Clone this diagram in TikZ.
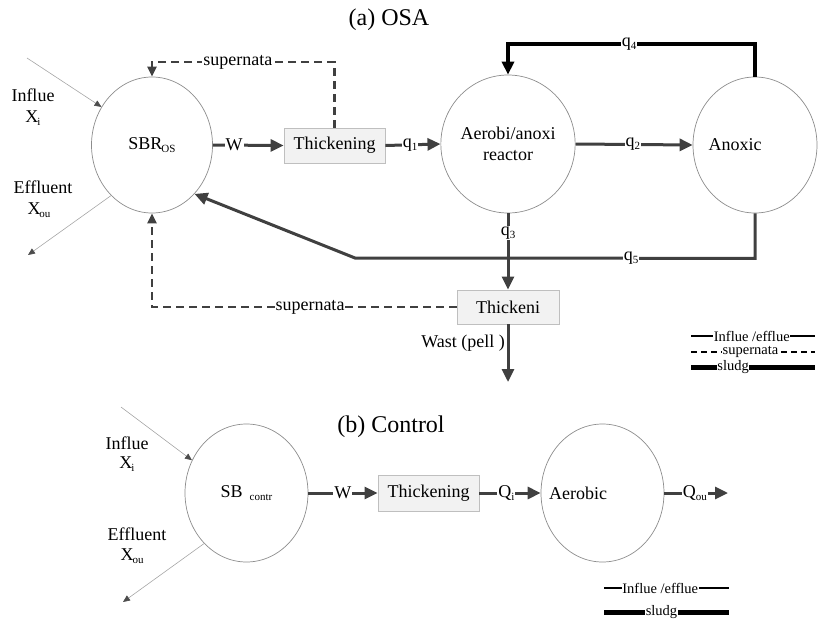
\documentclass[tikz,border=0pt]{standalone}
\usepackage{fontspec}
\setmainfont{Liberation Serif}
\usetikzlibrary{shapes.geometric,arrows.meta}
\newcommand\myfs{\fontsize{18}{21}\selectfont}
\newcommand\lgfs{\fontsize{14.5}{16}\selectfont}
\newcommand\sbt[1]{\raisebox{-3pt}{\fontsize{11}{13}\selectfont #1}}
\begin{document}
\begin{tikzpicture}[x=1pt,y=-1pt,
  vessel/.style={ellipse,draw=black!45,line width=0.7pt,inner sep=0pt,font=\myfs,align=center},
  tank/.style={rectangle,draw=black!25,fill=black!5,line width=0.9pt,minimum width=101pt,minimum height=35pt,inner sep=0pt,font=\myfs},
  txt/.style={font=\myfs,inner sep=1pt},
  lbl/.style={fill=white,inner sep=1pt,font=\myfs},
  lgd/.style={fill=white,inner xsep=0.5pt,inner ysep=0pt,font=\lgfs},
  flow/.style={draw=black!75,line width=3pt,-{Triangle[length=13pt,width=12pt]}},
  sludge/.style={draw=black,line width=3.4pt,-{Triangle[length=13pt,width=12pt]}},
  superflow/.style={draw=black!75,line width=2.2pt,dash pattern=on 8pt off 5pt,-{Triangle[length=10pt,width=9pt]}},
  thin/.style={draw=black!35,line width=0.6pt,-{Triangle[length=7pt,width=6pt,color=black!70]}}
]
\useasboundingbox (0,0) rectangle (822,621);

% ---------- (a) OSA ----------
\node[font=\fontsize{24}{28}\selectfont] (ta) at (389,20) {(a) OSA};

\node[vessel,minimum width=121pt,minimum height=136pt] (sbr) at (152,145) {SBR\hspace{-1pt}\sbt{OS}};
\node[vessel,minimum width=123pt,minimum height=138pt] (aer) at (508,144) {Aerobi/anoxi\\reactor};
\node[vessel,minimum width=124pt,minimum height=136pt] (anox) at (755,145) {};
\node[txt] (anoxt) at (735,145) {Anoxic};
\node[tank] (th1) at (334.5,145.5) {Thickening};
\node[tank,minimum width=102pt,minimum height=34pt] (th2) at (508,307) {Thickeni};

\node[txt] (inA) at (33,95) {Influe};
\node[txt] (xiA) at (33,118) {X\hspace{-1pt}\sbt{i}};
\node[txt] (efA) at (43,187) {Effluent};
\node[txt] (xoA) at (39,210) {X\hspace{-1pt}\sbt{ou}};

\coordinate (inAs) at (27,58);
\coordinate (efAe) at (28,255);
\draw[thin] (inAs) -- (sbr.143);
\draw[thin] (sbr.231) -- (efAe);

\draw[flow] (sbr.east) -- node[lbl,pos=0.3]{W} (th1.west);
\draw[flow] (th1.east) -- node[lbl,pos=0.45]{q\sbt{1}} (aer.west);
\draw[flow] (aer.east) -- node[lbl,pos=0.49]{q\sbt{2}} (anox.west);

\draw[sludge] (anox.north) -- (755,44) -- node[lbl,pos=0.51]{q\sbt{4}} (508,44) -- (aer.north);

\draw[flow] (anox.south) -- ++(0,45) -- node[lbl,pos=0.31]{q\sbt{5}} (355,258) -- (sbr.311);
\draw[flow] (aer.south) -- node[lbl,pos=0.26]{q\sbt{3}} (th2.north);

\draw[superflow] (th1.north) -- (334.5,62) -- node[lbl,pos=0.53]{supernata} (152,62) -- (sbr.north);
\draw[superflow] (th2.west) -- (152,307) -- (sbr.south);
\node[lbl] (supB) at (310,307) {supernata};

\coordinate (wend) at (508,382);
\draw[flow] (th2.south) -- (wend);
\node[txt,anchor=east] (wast) at (506,343) {Wast (pell )};

% legend (a)
\draw[line width=1.6pt] (691,336) -- node[lgd,pos=0.49]{Influe /efflue} (815,336);
\draw[line width=1.6pt,dash pattern=on 6pt off 4pt] (691,352) -- node[lgd,pos=0.48]{supernata} (815,352);
\draw[line width=5pt] (691,367) -- node[lgd,pos=0.34]{sludg} (815,367);

% ---------- (b) Control ----------
\node[font=\fontsize{24}{28}\selectfont] (tb) at (391,427) {(b) Control};

\node[vessel,minimum width=123pt,minimum height=138pt] (sbrc) at (246.5,493) {SB\hspace{7pt}\sbt{contr}};
\node[vessel,minimum width=123pt,minimum height=138pt] (aerc) at (602.5,493) {};
\node[txt] (aerct) at (578,493) {Aerobic};
\node[tank,minimum height=36pt] (th3) at (428.5,493) {Thickening};

\node[txt] (inB) at (127,443) {Influe};
\node[txt] (xiB) at (127,464) {X\hspace{-1pt}\sbt{i}};
\node[txt] (efB) at (137,534) {Effluent};
\node[txt] (xoB) at (132,556) {X\hspace{-1pt}\sbt{ou}};

\coordinate (inBs) at (121,407);
\coordinate (efBe) at (123,602);
\draw[thin] (inBs) -- (sbrc.149);
\draw[thin] (sbrc.230) -- (efBe);

\coordinate (qoe) at (728,493);
\draw[flow] (sbrc.east) -- node[lbl,pos=0.5]{W} (th3.west);
\draw[flow] (th3.east) -- node[lbl,pos=0.44]{Q\sbt{i}} (aerc.west);
\draw[flow] (aerc.east) -- node[lbl,pos=0.48]{Q\sbt{ou}} (qoe);

% legend (b)
\draw[line width=1.6pt] (604,588) -- node[lgd,pos=0.45]{Influe /efflue} (729,588);
\draw[line width=5pt] (604,612) -- node[lgd,pos=0.46]{sludg} (729,612);
\end{tikzpicture}
\end{document}
